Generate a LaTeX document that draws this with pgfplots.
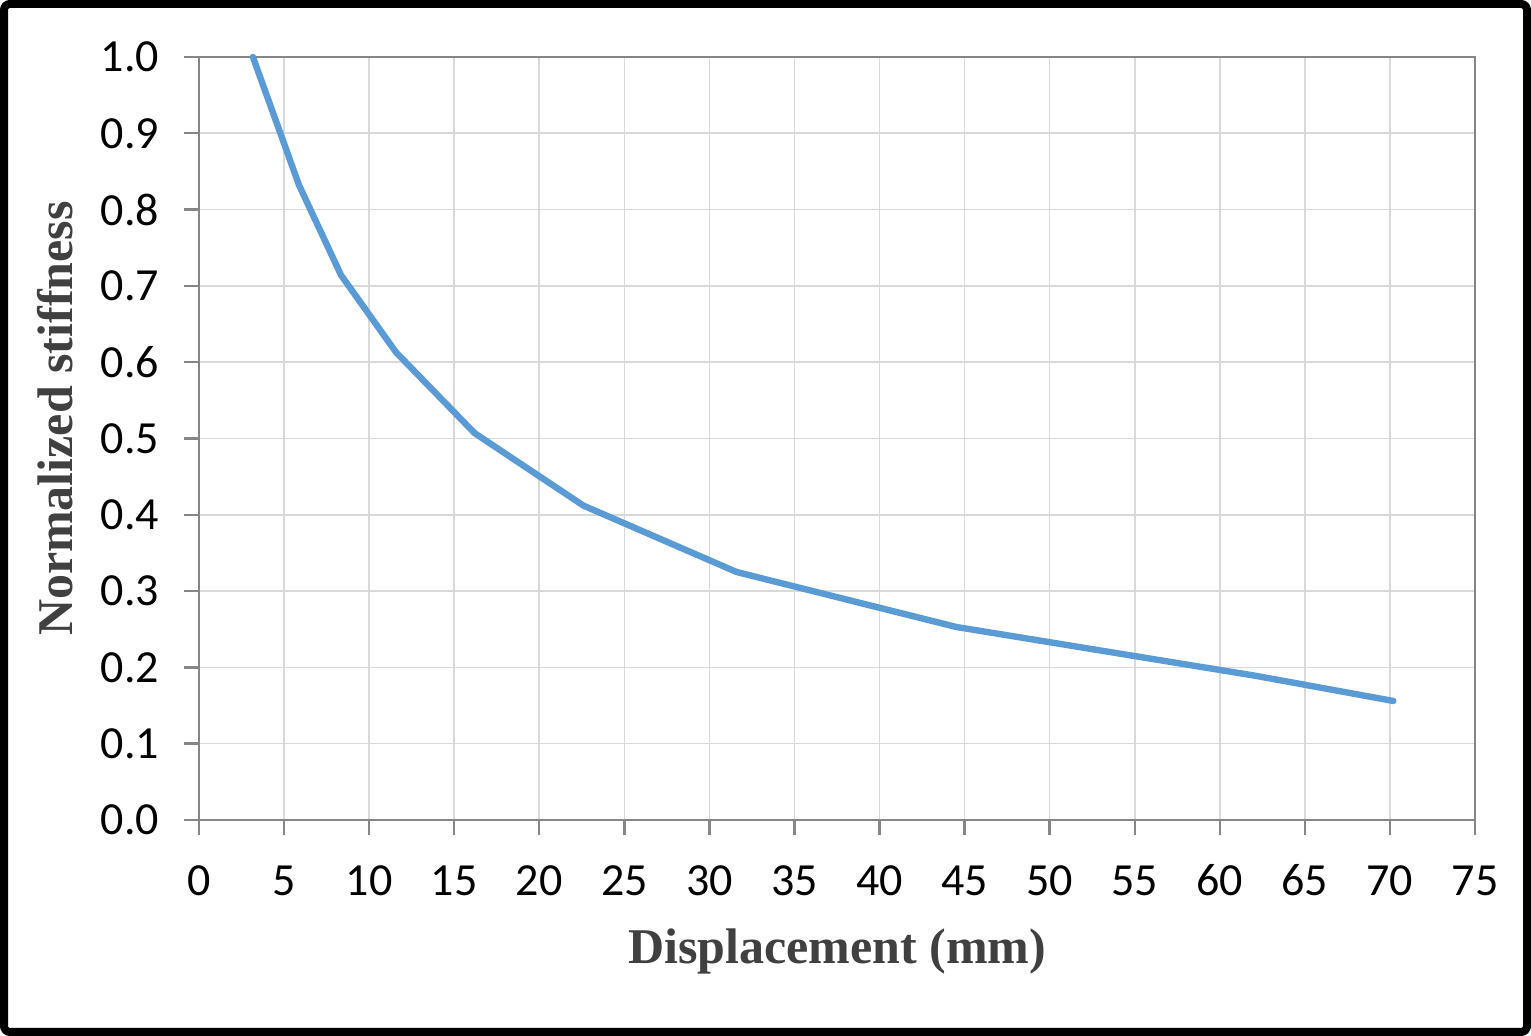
\documentclass[border=0pt]{standalone}
\usepackage{pgfplots}
\pgfplotsset{compat=1.18}
\usepackage{fontspec}
\setmainfont{Carlito}
\newfontfamily\serifb{Liberation Serif}
\definecolor{lineblue}{HTML}{5B9BD5}
\definecolor{gridgray}{HTML}{D9D9D9}
\definecolor{axgray}{HTML}{868686}
\definecolor{labgray}{HTML}{404040}
\begin{document}
\begin{tikzpicture}
\useasboundingbox (0,0) rectangle (765.5pt,518pt);
\draw[line width=4pt, rounded corners=3pt] (2pt,2pt) rectangle (763.5pt,516pt);
\begin{axis}[
  at={(99.5pt,108pt)}, anchor=south west,
  width=638pt, height=381.5pt, scale only axis,
  xmin=0, xmax=75, ymin=0, ymax=1.0,
  xtick={0,5,...,75},
  ytick={0,0.1,...,1.0},
  yticklabel style={/pgf/number format/fixed, /pgf/number format/fixed zerofill, /pgf/number format/precision=1},
  /pgf/number format/assume math mode=true,
  tick label style={font=\fontsize{23}{26}\selectfont, text=black},
  xticklabel style={yshift=-11.5pt, text height=15pt, text depth=0pt},
  yticklabel style={xshift=-9pt},
  tick align=outside, tick pos=left,
  major tick length=7.5pt,
  tick style={axgray, line width=1.2pt},
  axis line style={axgray, line width=1.2pt},
  grid=major, grid style={gridgray, line width=0.8pt},
  xlabel={Displacement (mm)},
  ylabel={Normalized stiffness},
  label style={font=\serifb\bfseries\fontsize{25}{30}\selectfont, text=labgray},
  xlabel style={at={(axis description cs:0.5,0)}, anchor=base, yshift=-72pt},
  ylabel style={at={(axis description cs:-0.0995,0.526)}, anchor=base},
  clip=false,
]
\addplot[lineblue, line width=3.2pt, line cap=round, line join=round] coordinates {
(3.17,1.0) (5.88,0.832) (8.35,0.714) (11.58,0.613) (16.2,0.507) (22.6,0.412) (31.6,0.325) (44.5,0.253) (62.1,0.189) (70.2,0.156)
};
\end{axis}
\end{tikzpicture}
\end{document}
